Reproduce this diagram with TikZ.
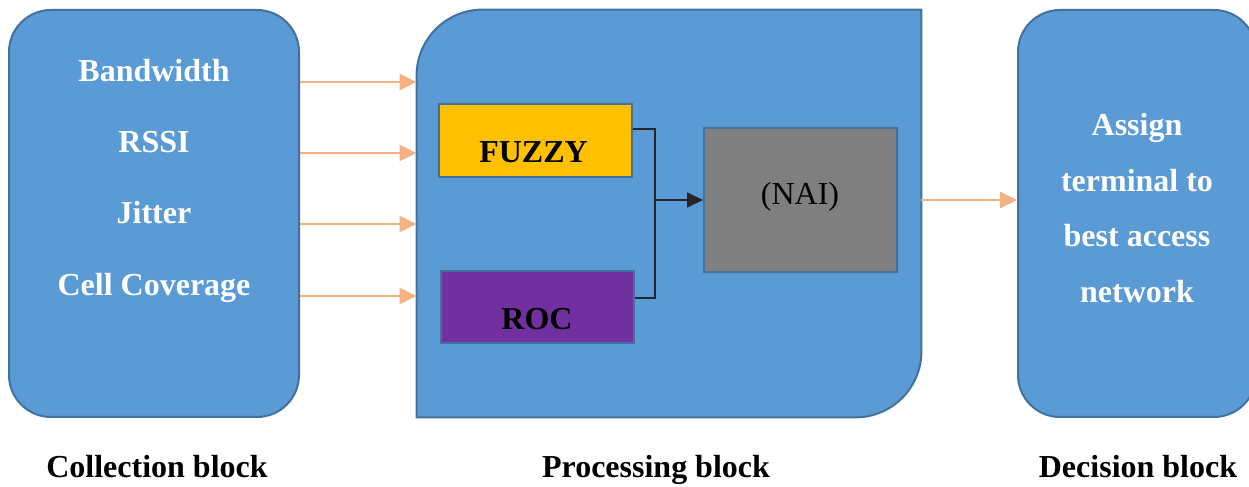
\documentclass[tikz,border=0pt]{standalone}
\usepackage{fontspec}
\setmainfont{Liberation Serif}
\usetikzlibrary{arrows.meta}
\definecolor{blockfill}{HTML}{5B9BD5}
\definecolor{blockline}{HTML}{41719C}
\definecolor{fuzzyfill}{HTML}{FFC000}
\definecolor{rocfill}{HTML}{7030A0}
\definecolor{naifill}{HTML}{7F7F7F}
\definecolor{feedline}{HTML}{F4B183}
\definecolor{linkline}{HTML}{262626}
\begin{document}
\begin{tikzpicture}[x=.5pt,y=.5pt,
  every node/.style={font=\fontsize{16}{19}\selectfont\bfseries},
  blockbox/.style={draw=blockline,fill=blockfill,line width=1pt,rounded corners=21pt,inner sep=0pt,minimum height=203.5pt},
  unitbox/.style={draw=blockline,line width=1pt,inner sep=0pt,minimum width=96.5pt},
  whitetext/.style={text=white,anchor=base},
  feed/.style={draw=feedline,line width=1pt,-{Triangle[length=8.5pt,width=8pt]}},
  link/.style={draw=linkline,line width=1pt}]
  \useasboundingbox (0,0) rectangle (1249,487);
  \clip (0,0) rectangle (1249,487);
  \node[blockbox,minimum width=145pt] (collect) at (154,273.5) {};
  \node[blockbox,minimum width=119pt] (decide) at (1137,273.5) {};
  \node[inner sep=0pt,minimum width=252pt,minimum height=203.5pt] (process) at (669,273.5) {};
  \draw[draw=blockline,fill=blockfill,line width=1pt]
    (process.south west) -- ([yshift=-33pt]process.north west) arc (180:90:33pt)
    -- (process.north east) -- ([yshift=33pt]process.south east) arc (0:-90:33pt) -- cycle;
  \node[whitetext] (bw) at (154,405) {Bandwidth};
  \node[whitetext] (rssi) at (154,334) {RSSI};
  \node[whitetext] (jitter) at (154,263) {Jitter};
  \node[whitetext] (cell) at (154,191) {Cell Coverage};
  \node[text=white,align=center,font=\fontsize{16}{27.75}\selectfont\bfseries] (assign) at (1137,279)
    {Assign\\terminal to\\best access\\network};
  \node[unitbox,fill=fuzzyfill,minimum height=36.5pt] (fuzzy) at (535.5,346.5) {};
  \node[unitbox,fill=rocfill,minimum height=36pt] (roc) at (537.5,180) {};
  \node[unitbox,fill=naifill,minimum height=72pt] (nai) at (800.5,287) {};
  \node[anchor=base] (fuzzytext) at (533.5,324) {FUZZY};
  \node[anchor=base] (roctext) at (537,157) {ROC};
  \node[anchor=base,font=\fontsize{16}{19}\selectfont] (naitext) at (800,282) {(NAI)};
  \coordinate (join) at (655,287);
  \draw[link] ([yshift=5.75pt]fuzzy.east) -| (join);
  \draw[link] ([yshift=4.5pt]roc.east) -| (join);
  \draw[link,-{Triangle[length=8pt,width=7.5pt]}] (join) -- (nai.west);
  \foreach \lbl in {bw,rssi,jitter,cell}
    \draw[feed] (collect.east |- \lbl.base) -- (process.west |- \lbl.base);
  \draw[feed] (process.east |- nai) -- (decide.west |- nai);
  \node[anchor=base] (collectname) at (157,9) {Collection block};
  \node[anchor=base] (processname) at (656,9) {Processing block};
  \node[anchor=base] (decidename) at (1138,9) {Decision block};
\end{tikzpicture}
\end{document}
